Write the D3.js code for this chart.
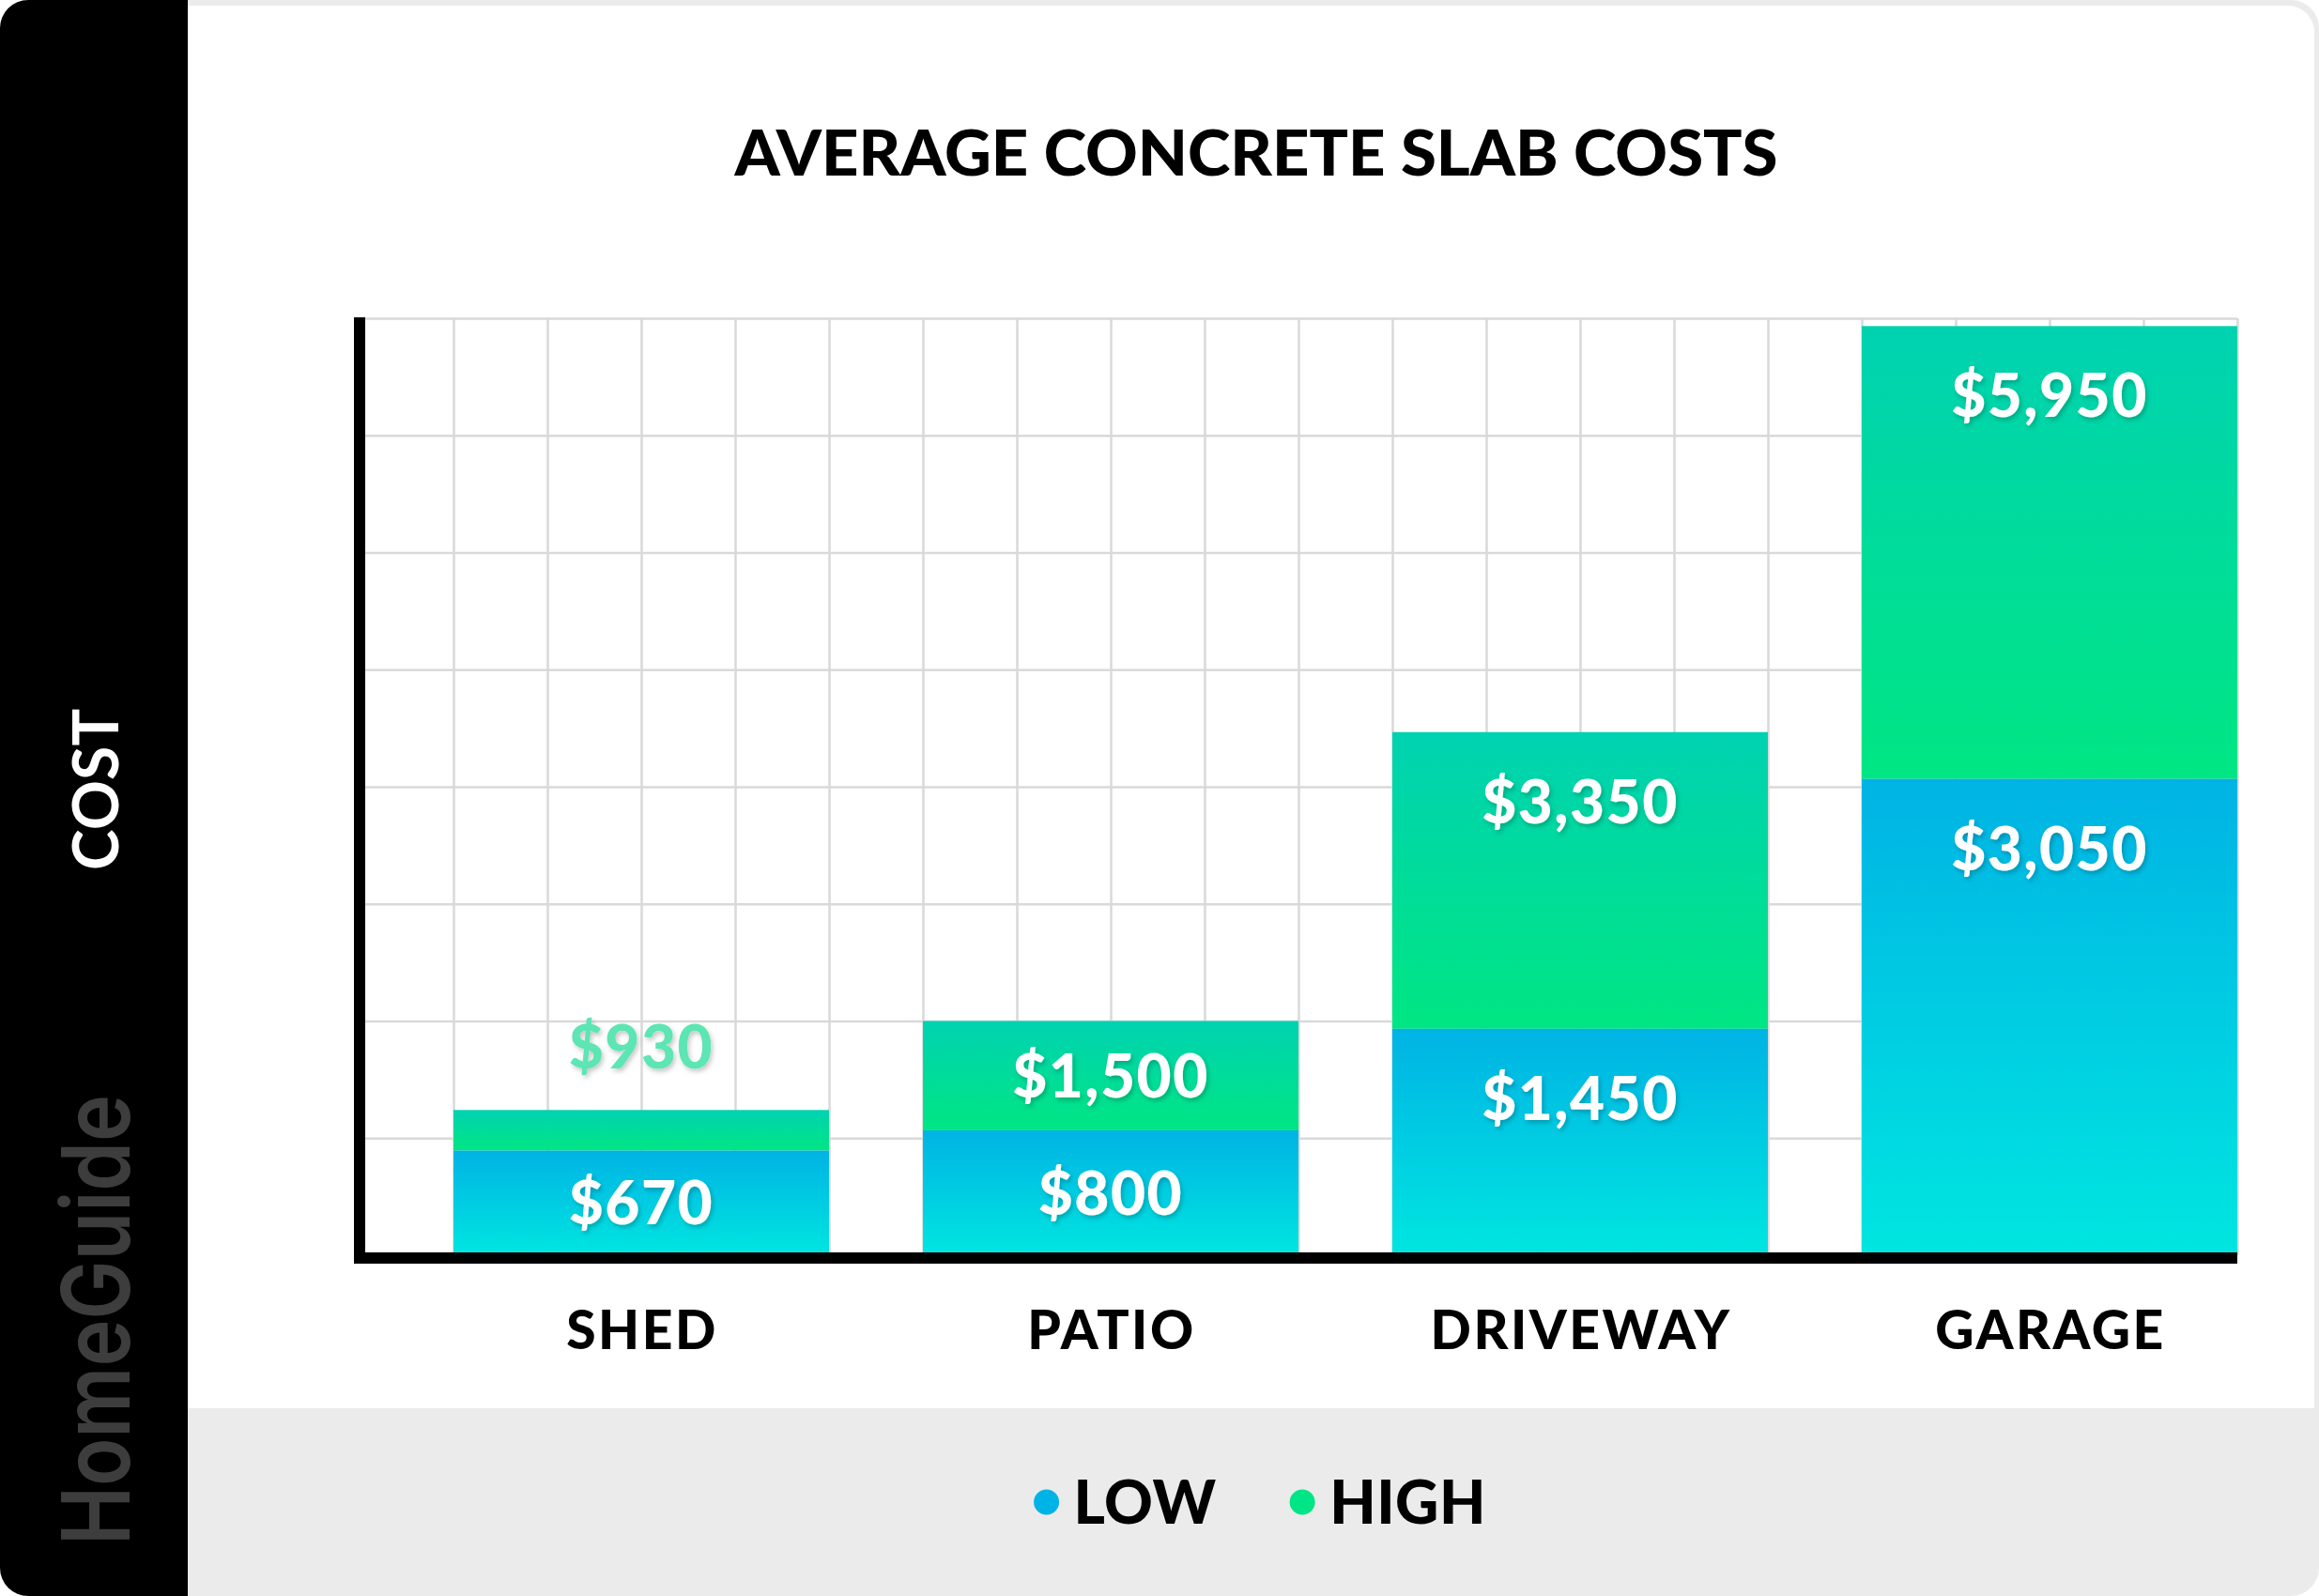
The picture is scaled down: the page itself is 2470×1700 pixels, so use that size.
<!DOCTYPE html>
<html>
<head>
<meta charset="utf-8">
<script src="https://cdn.jsdelivr.net/npm/d3@7"></script>
<style>
  html, body { margin: 0; padding: 0; background: #ffffff; }
  svg { display: block; }
  text { font-family: "Lato", "Open Sans", sans-serif; }
</style>
</head>
<body>
<svg id="chart" width="2470" height="1700"></svg>
<script>
// ---------- data ----------
const categories = ["SHED", "PATIO", "DRIVEWAY", "GARAGE"];
const lowCosts   = [670, 800, 1450, 3050];
const highCosts  = [930, 1500, 3350, 5950];
const yGridValues = [0, 750, 1500, 2250, 3000, 3750, 4500, 5250, 6000];
const seriesNames = ["LOW", "HIGH"];
const titleText = "AVERAGE CONCRETE SLAB COSTS";
const yAxisTitle = "COST";
const brandText = "HomeGuide";

// ---------- layout ----------
const W = 2470, H = 1700;
const x0 = 383, x1 = 2383;       // plot left (axis) / right
const yTop = 339, yBase = 1337;  // plot top / zero line

const svg = d3.select("#chart");
const defs = svg.append("defs");

function grad(id, top, bottom) {
  const g = defs.append("linearGradient").attr("id", id)
    .attr("x1", 0).attr("y1", 0).attr("x2", 0).attr("y2", 1);
  g.append("stop").attr("offset", "0%").attr("stop-color", top);
  g.append("stop").attr("offset", "100%").attr("stop-color", bottom);
}
grad("gLow", "#00b3e4", "#00e6e0");
grad("gHigh", "#00d2b1", "#00e683");

const f = defs.append("filter").attr("id", "shadow")
  .attr("x", "-20%").attr("y", "-30%").attr("width", "140%").attr("height", "160%");
f.append("feDropShadow").attr("dx", 2).attr("dy", 3).attr("stdDeviation", 2.5)
  .attr("flood-color", "#000").attr("flood-opacity", 0.22);

// ---------- card background ----------
svg.append("rect").attr("x", 0).attr("y", 0).attr("width", W).attr("height", H)
  .attr("rx", 30).attr("ry", 30).attr("fill", "#ebebeb");
svg.append("path").attr("fill", "#ffffff")
  .attr("d", "M200,6 H2437 A28,28 0 0 1 2465,34 V1500 H200 Z");
svg.append("path").attr("fill", "#000000")
  .attr("d", "M30,0 H200 V1700 H30 A30,30 0 0 1 0,1670 V30 A30,30 0 0 1 30,0 Z");

// ---------- scales ----------
const y = d3.scaleLinear().domain([0, 6000]).range([yBase, yTop]);
const x = d3.scaleBand().domain(categories).range([x0, x1])
  .paddingInner(0.2).paddingOuter(0.1).align(1);
const xGrid = d3.scaleLinear().domain([0, 20]).range([x0, x1]);

// ---------- grid ----------
const gridH = svg.append("g").attr("transform", `translate(${x0},0)`)
  .call(d3.axisLeft(y).tickValues(yGridValues).tickSize(-(x1 - x0)).tickFormat(""));
gridH.select(".domain").remove();
gridH.selectAll("line").attr("stroke", "#d9d9d9").attr("stroke-width", 2.5);

const gridV = svg.append("g").attr("transform", `translate(0,${yBase})`)
  .call(d3.axisBottom(xGrid).tickValues(d3.range(1, 21)).tickSize(-(yBase - yTop)).tickFormat(""));
gridV.select(".domain").remove();
gridV.selectAll("line").attr("stroke", "#d9d9d9").attr("stroke-width", 2.5);

// ---------- bars ----------
const rows = categories.map((c, i) => ({ cat: c, low: lowCosts[i], high: highCosts[i] }));

svg.append("g").selectAll("rect").data(rows).join("rect")
  .attr("x", d => x(d.cat)).attr("width", x.bandwidth())
  .attr("y", d => y(d.high)).attr("height", d => y(d.low) - y(d.high))
  .attr("fill", "url(#gHigh)");

svg.append("g").selectAll("rect").data(rows).join("rect")
  .attr("x", d => x(d.cat)).attr("width", x.bandwidth())
  .attr("y", d => y(d.low)).attr("height", d => y(0) - y(d.low))
  .attr("fill", "url(#gLow)");

// ---------- axes lines ----------
svg.append("line").attr("x1", x0).attr("x2", x0).attr("y1", yTop - 1).attr("y2", yBase + 9)
  .attr("stroke", "#000").attr("stroke-width", 12);
svg.append("line").attr("x1", x0 - 6).attr("x2", x1).attr("y1", yBase + 3).attr("y2", yBase + 3)
  .attr("stroke", "#000").attr("stroke-width", 12);

// ---------- value labels ----------
const fmt = d3.format("$,");
const valueSize = 64;
const capShift = valueSize * 0.36;
const labels = [];
rows.forEach(d => {
  const segs = [
    { v: d.high, top: y(d.high), bottom: y(d.low) },
    { v: d.low, top: y(d.low), bottom: y(0) }
  ];
  segs.forEach(s => {
    const h = s.bottom - s.top;
    if (h < 90) {
      labels.push({ cat: d.cat, v: s.v, cy: s.top - 67, color: "#5de5b3" });
    } else {
      labels.push({ cat: d.cat, v: s.v, cy: Math.min(s.top + 74, (s.top + s.bottom) / 2), color: "#ffffff" });
    }
  });
});
svg.append("g").selectAll("text").data(labels).join("text")
  .attr("x", d => x(d.cat) + x.bandwidth() / 2)
  .attr("y", d => d.cy + capShift)
  .attr("text-anchor", "middle")
  .attr("font-size", valueSize).attr("font-weight", 900)
  .attr("letter-spacing", 1.5)
  .attr("fill", d => d.color)
  .attr("filter", "url(#shadow)")
  .text(d => fmt(d.v));

// ---------- category labels ----------
svg.append("g").selectAll("text").data(categories).join("text")
  .attr("x", d => x(d) + x.bandwidth() / 2 + 1)
  .attr("y", 1437)
  .attr("text-anchor", "middle")
  .attr("font-size", 57).attr("font-weight", 900)
  .attr("letter-spacing", 2.5)
  .attr("fill", "#000")
  .text(d => d);

// ---------- title ----------
svg.append("text")
  .attr("x", 1338).attr("y", 187)
  .attr("text-anchor", "middle")
  .attr("font-size", 66).attr("font-weight", 900)
  .attr("textLength", 1111).attr("lengthAdjust", "spacingAndGlyphs")
  .attr("fill", "#000")
  .text(titleText);

// ---------- side panel texts ----------
svg.append("text")
  .attr("transform", "translate(126,841) rotate(-90)")
  .attr("text-anchor", "middle")
  .attr("font-size", 66).attr("font-weight", 700)
  .attr("textLength", 172).attr("lengthAdjust", "spacing")
  .attr("fill", "#fff")
  .text(yAxisTitle);

svg.append("text")
  .attr("transform", "translate(138,1406) rotate(-90)")
  .attr("text-anchor", "middle")
  .attr("font-size", 100).attr("font-weight", 600)
  .attr("textLength", 480).attr("lengthAdjust", "spacingAndGlyphs")
  .attr("fill", "#3d3d3d")
  .style("font-family", "Inter, Lato, sans-serif")
  .text(brandText);

// ---------- legend ----------
const legendColors = ["#00b3e6", "#00e585"];
const legendSize = 64;
const legend = svg.append("g");
const items = legend.selectAll("g").data(seriesNames).join("g");
items.append("circle").attr("r", 13.5).attr("cx", 0).attr("cy", 0)
  .attr("fill", (d, i) => legendColors[i]);
items.append("text").attr("x", 29).attr("y", legendSize * 0.36)
  .attr("font-size", legendSize).attr("font-weight", 900)
  .attr("letter-spacing", 0.5)
  .attr("fill", "#000").text(d => d);
const widths = [];
items.each(function () {
  const w = 29 + this.querySelector("text").getComputedTextLength() + 13.5;
  widths.push(w);
});
const gap = 78;
const total = d3.sum(widths) + gap * (widths.length - 1);
const start = 1342 - total / 2 + 13.5;
items.attr("transform", (d, i) => {
  const tx = start + d3.sum(widths.slice(0, i)) + gap * i;
  return `translate(${tx},1600)`;
});
</script>
</body>
</html>
